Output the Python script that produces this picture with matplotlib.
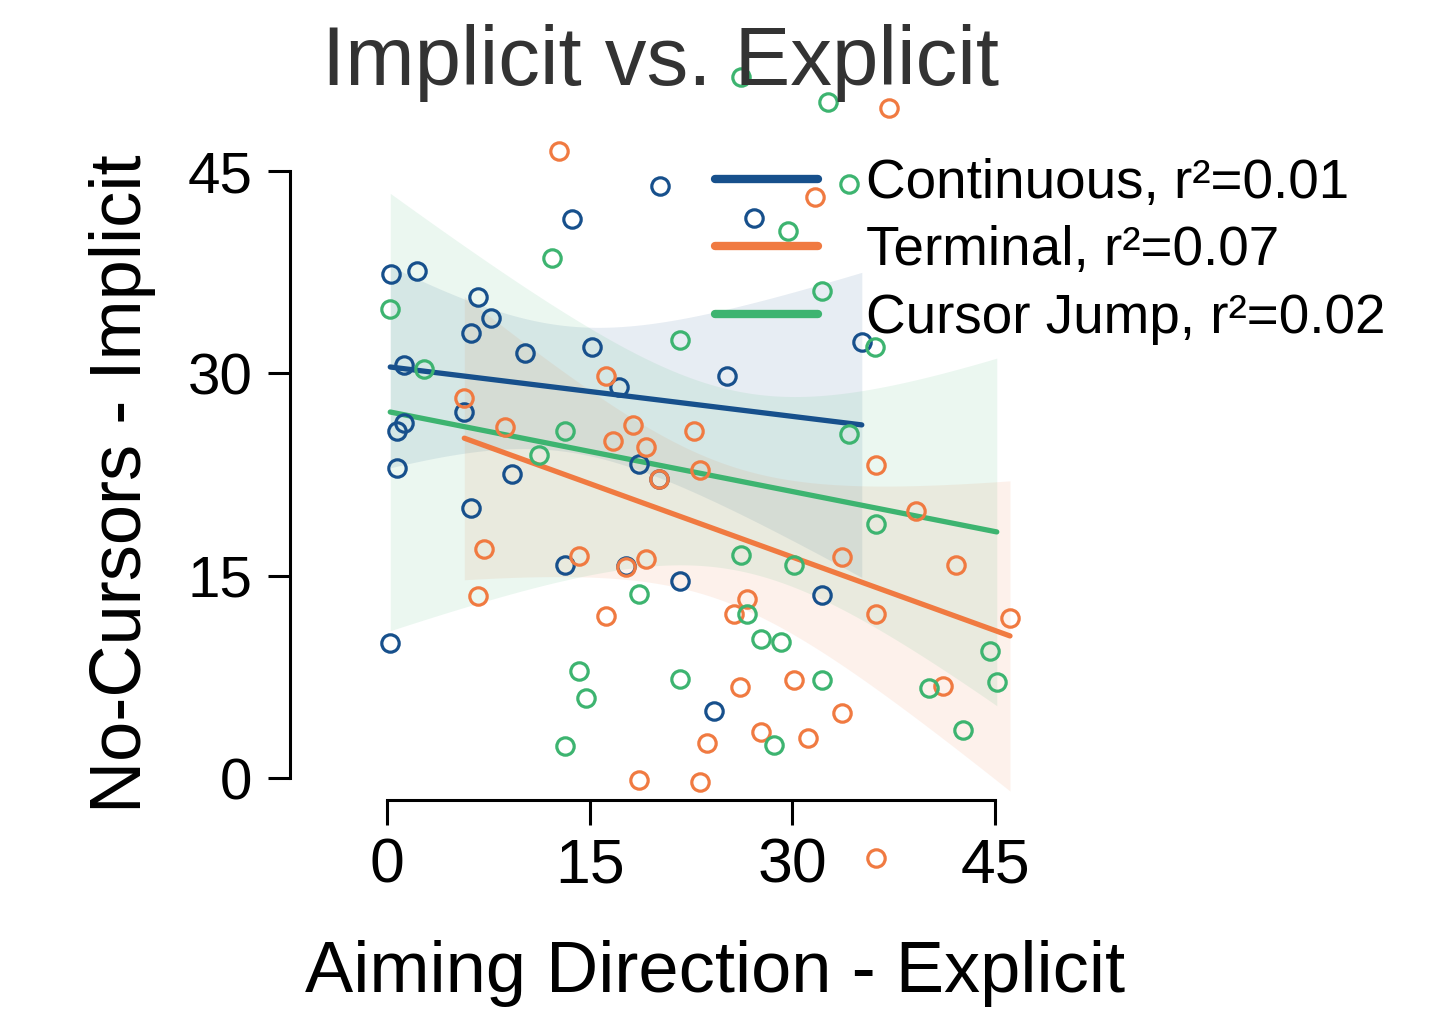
import matplotlib
matplotlib.use('Agg')
import matplotlib.pyplot as plt
from matplotlib.lines import Line2D
import numpy as np

plt.rcParams['font.family'] = ['Liberation Sans', 'DejaVu Sans']

# datos
cont_x = [0.27, 2.24, 6.71, 7.72, 6.22, 10.21, 15.20, 13.69, 20.19, 1.24, 17.19, 5.72, 0.72, 1.24,
          0.76, 9.23, 6.24, 13.20, 17.69, 20.16, 18.67, 21.69, 0.24, 32.18, 24.18, 27.19, 25.19, 35.14]
cont_y = [37.36, 37.58, 35.68, 34.08, 32.97, 31.48, 31.97, 41.44, 43.86, 30.64, 28.96, 27.15, 25.72, 26.29,
          23.00, 22.51, 20.04, 15.79, 15.74, 22.16, 23.25, 14.63, 10.03, 13.57, 4.97, 41.53, 29.80, 32.34]

term_x = [12.71, 37.16, 31.68, 16.21, 5.72, 8.71, 16.71, 18.21, 19.17, 22.70, 23.17, 36.17, 7.20, 14.19,
          17.69, 19.17, 6.71, 16.19, 18.67, 39.13, 33.66, 42.14, 26.67, 25.66, 36.17, 46.11, 30.15, 26.15,
          41.13, 33.66, 27.68, 23.66, 31.14, 23.17, 36.17, 20.16]
term_y = [46.50, 49.64, 43.07, 29.82, 28.15, 26.02, 25.00, 26.17, 24.51, 25.75, 22.81, 23.23, 16.98, 16.48,
          15.66, 16.21, 13.51, 12.03, -0.15, 19.81, 16.36, 15.79, 13.27, 12.14, 12.14, 11.88, 7.26, 6.75,
          6.82, 4.84, 3.43, 2.62, 2.99, -0.27, -5.95, 22.20]

jump_x = [0.24, 2.72, 12.21, 21.69, 13.20, 11.23, 26.18, 32.67, 34.17, 29.66, 32.18, 36.14, 34.17, 18.67,
          14.21, 14.71, 13.20, 21.69, 36.17, 26.18, 30.15, 26.67, 27.68, 29.16, 32.18, 40.14, 44.63, 45.13,
          42.64, 28.67]
jump_y = [34.77, 30.30, 38.53, 32.45, 25.70, 23.94, 51.94, 50.09, 44.03, 40.57, 36.12, 31.93, 25.50, 13.64,
          7.91, 5.91, 2.37, 7.36, 18.85, 16.53, 15.77, 12.18, 10.30, 10.06, 7.26, 6.65, 9.41, 7.14,
          3.56, 2.45]

# rectas de ajuste (ordenada, pendiente)
ordenadas = [30.5, 27.27, 27.18]
pendientes = [-0.123, -0.363, -0.198]

etiquetas = ['Continuous, r²=0.01', 'Terminal, r²=0.07', 'Cursor Jump, r²=0.02']
colores = ['#17508c', '#f07a41', '#3db470']
ticks = [0, 15, 30, 45]


def banda(x, y, a, b):
    x = np.array(x)
    y = np.array(y)
    n = len(x)
    xs = np.linspace(x.min(), x.max(), 100)
    ys = a + b * xs
    res = y - (a + b * x)
    s = np.sqrt(np.sum(res**2) / (n - 2))
    sxx = np.sum((x - x.mean())**2)
    ci = 2.4 * s * np.sqrt(1 / n + (xs - x.mean())**2 / sxx)
    return xs, ys, ci


fig = plt.figure(figsize=(14.3, 10.24), dpi=100)
ax = fig.add_axes([290 / 1430, 1 - 800 / 1024, 750 / 1430, 670 / 1024])
ax.set_xlim(-7.18, 48.33)
ax.set_ylim(-1.63, 48.04)

grupos = [(cont_x, cont_y), (term_x, term_y), (jump_x, jump_y)]
for (x, y), a, b, c in zip(grupos, ordenadas, pendientes, colores):
    xs, ys, ci = banda(x, y, a, b)
    ax.fill_between(xs, ys - ci, ys + ci, color=c, alpha=0.1, linewidth=0, clip_on=False, zorder=1)
    ax.plot(xs, ys, color=c, linewidth=3.8, solid_capstyle='round', clip_on=False, zorder=2)
for (x, y), c in zip(grupos, colores):
    ax.plot(x, y, linestyle='none', marker='o', markersize=12.5, markerfacecolor='none',
            markeredgecolor=c, markeredgewidth=2.3, clip_on=False, zorder=3)

for lado in ['top', 'right']:
    ax.spines[lado].set_visible(False)
ax.spines['left'].set_bounds(0, 45)
ax.spines['bottom'].set_bounds(0, 45)
ax.spines['left'].set_linewidth(2.2)
ax.spines['bottom'].set_linewidth(2.2)
ax.set_xticks(ticks)
ax.set_yticks(ticks)
ax.tick_params(axis='x', length=18, width=2.2, labelsize=45, pad=8)
ax.tick_params(axis='y', length=16, width=2.2, labelsize=42, pad=11)
ax.patch.set_visible(False)

handles = [Line2D([], [], color=c, linewidth=6, solid_capstyle='round') for c in colores]
leg = fig.legend(handles, etiquetas, loc='upper left', bbox_to_anchor=(715 / 1430, 1 - 158 / 1024),
                 frameon=False, fontsize=39.5, handlelength=1.88, handletextpad=0.87,
                 labelspacing=0.28, borderpad=0, borderaxespad=0)
leg.set_zorder(0)

fig.text(661 / 1430, 1 - 85 / 1024, 'Implicit vs. Explicit', fontsize=60, color='#333333',
         ha='center', va='baseline')
fig.text(715 / 1430, 1 - 992 / 1024, 'Aiming Direction - Explicit', fontsize=52,
         ha='center', va='baseline')
fig.text(122 / 1430, 1 - 484 / 1024, 'No-Cursors - Implicit', fontsize=52,
         rotation=90, ha='center', va='center')

plt.savefig('out.png', dpi=100)
